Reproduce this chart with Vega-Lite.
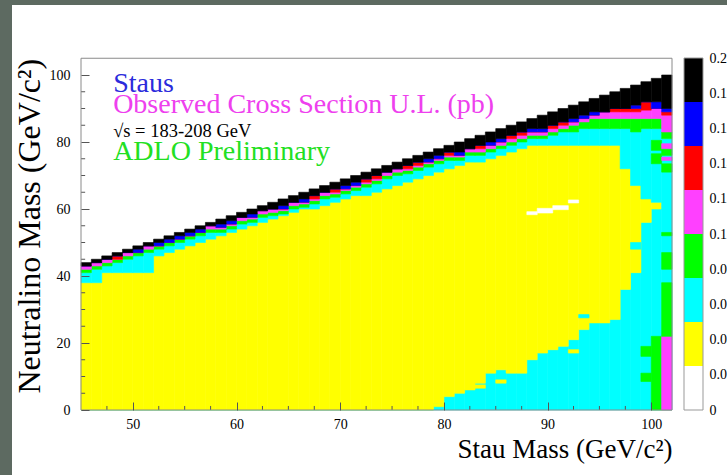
{
  "$schema": "https://vega.github.io/schema/vega-lite/v6.json",
  "width": 715,
  "height": 470,
  "autosize": {"type": "none"},
  "padding": {"left": 12, "top": 5, "right": 0, "bottom": 0},
  "background": "#5d6a61",
  "config": {
    "view": {"fill": "white", "stroke": null},
    "font": "Liberation Serif",
    "legend": {"disable": true}
  },
  "datasets": {
    "cols": [
      {"m": 45, "m2": 46, "top": 44, "k": 43, "b": 43, "r": 43, "p": 42, "g": 41, "yt": 38, "yb": 0},
      {"m": 46, "m2": 47, "top": 45, "k": 44, "b": 44, "r": 44, "p": 43, "g": 42, "yt": 38, "yb": 0},
      {"m": 47, "m2": 48, "top": 46, "k": 45, "b": 45, "r": 45, "p": 44, "g": 43, "yt": 41, "yb": 0},
      {"m": 48, "m2": 49, "top": 47, "k": 46, "b": 46, "r": 45, "p": 45, "g": 44, "yt": 41, "yb": 0},
      {"m": 49, "m2": 50, "top": 48, "k": 47, "b": 47, "r": 47, "p": 46, "g": 45, "yt": 41, "yb": 0},
      {"m": 50, "m2": 51, "top": 49, "k": 48, "b": 47, "r": 47, "p": 47, "g": 46, "yt": 41, "yb": 0},
      {"m": 51, "m2": 52, "top": 50, "k": 49, "b": 49, "r": 49, "p": 48, "g": 47, "yt": 41, "yb": 0},
      {"m": 52, "m2": 53, "top": 51, "k": 50, "b": 49, "r": 49, "p": 49, "g": 48, "yt": 46, "yb": 0},
      {"m": 53, "m2": 54, "top": 52, "k": 51, "b": 50, "r": 50, "p": 50, "g": 49, "yt": 47, "yb": 0},
      {"m": 54, "m2": 55, "top": 53, "k": 52, "b": 51, "r": 51, "p": 51, "g": 50, "yt": 48, "yb": 0},
      {"m": 55, "m2": 56, "top": 54, "k": 53, "b": 52, "r": 52, "p": 52, "g": 51, "yt": 49, "yb": 0},
      {"m": 56, "m2": 57, "top": 55, "k": 54, "b": 53, "r": 53, "p": 53, "g": 52, "yt": 50, "yb": 0},
      {"m": 57, "m2": 58, "top": 56, "k": 55, "b": 55, "r": 55, "p": 54, "g": 53, "yt": 51, "yb": 0},
      {"m": 58, "m2": 59, "top": 57, "k": 55.5, "b": 54.5, "r": 54.5, "p": 54, "g": 53, "yt": 52, "yb": 0},
      {"m": 59, "m2": 60, "top": 58, "k": 56.5, "b": 55.5, "r": 55.5, "p": 55, "g": 54, "yt": 53, "yb": 0},
      {"m": 60, "m2": 61, "top": 59, "k": 57.5, "b": 57.5, "r": 57.5, "p": 56.5, "g": 55.5, "yt": 54, "yb": 0},
      {"m": 61, "m2": 62, "top": 60, "k": 58.5, "b": 57.5, "r": 57.5, "p": 57, "g": 56, "yt": 55, "yb": 0},
      {"m": 62, "m2": 63, "top": 61, "k": 59.5, "b": 59.5, "r": 59.5, "p": 58.5, "g": 57.5, "yt": 56, "yb": 0},
      {"m": 63, "m2": 64, "top": 62, "k": 60, "b": 60, "r": 60, "p": 59, "g": 58, "yt": 57, "yb": 0},
      {"m": 64, "m2": 65, "top": 63, "k": 61, "b": 60, "r": 60, "p": 59.5, "g": 58.5, "yt": 58, "yb": 0},
      {"m": 65, "m2": 66, "top": 64, "k": 62, "b": 62, "r": 62, "p": 61, "g": 60, "yt": 59, "yb": 0},
      {"m": 66, "m2": 67, "top": 65, "k": 63, "b": 62, "r": 62, "p": 61.5, "g": 60.5, "yt": 60, "yb": 0},
      {"m": 67, "m2": 68, "top": 66, "k": 64, "b": 64, "r": 63, "p": 62.5, "g": 61.5, "yt": 60, "yb": 0},
      {"m": 68, "m2": 69, "top": 67, "k": 65, "b": 65, "r": 65, "p": 64, "g": 63, "yt": 61, "yb": 0},
      {"m": 69, "m2": 70, "top": 68, "k": 66, "b": 66, "r": 65, "p": 64.5, "g": 63.5, "yt": 62, "yb": 0},
      {"m": 70, "m2": 71, "top": 69, "k": 67, "b": 66, "r": 66, "p": 65.5, "g": 64.5, "yt": 63, "yb": 0},
      {"m": 71, "m2": 72, "top": 70, "k": 68, "b": 67, "r": 67, "p": 66.5, "g": 65.5, "yt": 64, "yb": 0},
      {"m": 72, "m2": 73, "top": 71, "k": 69, "b": 69, "r": 68, "p": 67.5, "g": 66.5, "yt": 64, "yb": 0},
      {"m": 73, "m2": 74, "top": 72, "k": 70, "b": 70, "r": 69, "p": 68.5, "g": 67.5, "yt": 65, "yb": 0},
      {"m": 74, "m2": 75, "top": 73, "k": 71, "b": 71, "r": 71, "p": 70, "g": 69, "yt": 66, "yb": 0},
      {"m": 75, "m2": 76, "top": 74, "k": 72, "b": 72, "r": 72, "p": 71, "g": 70, "yt": 67, "yb": 0},
      {"m": 76, "m2": 77, "top": 75, "k": 73, "b": 73, "r": 72, "p": 71.5, "g": 70.5, "yt": 68, "yb": 0},
      {"m": 77, "m2": 78, "top": 76, "k": 74, "b": 74, "r": 73, "p": 72.5, "g": 71.5, "yt": 69, "yb": 0},
      {"m": 78, "m2": 79, "top": 77, "k": 75, "b": 74, "r": 74, "p": 73.5, "g": 72.5, "yt": 70, "yb": 0},
      {"m": 79, "m2": 80, "top": 78, "k": 76, "b": 75, "r": 75, "p": 74.5, "g": 73.5, "yt": 71, "yb": 2},
      {"m": 80, "m2": 81, "top": 79, "k": 77, "b": 77, "r": 76, "p": 75.5, "g": 74.5, "yt": 72, "yb": 4},
      {"m": 81, "m2": 82, "top": 80, "k": 77, "b": 76, "r": 76, "p": 75.5, "g": 74.5, "yt": 73, "yb": 5},
      {"m": 82, "m2": 83, "top": 81, "k": 78, "b": 78, "r": 78, "p": 77, "g": 76, "yt": 74, "yb": 6},
      {"m": 83, "m2": 84, "top": 82, "k": 79, "b": 79, "r": 78, "p": 77, "g": 76, "yt": 74, "yb": 8},
      {"m": 84, "m2": 85, "top": 83, "k": 80, "b": 79, "r": 79, "p": 78, "g": 77, "yt": 75, "yb": 11},
      {"m": 85, "m2": 86, "top": 84, "k": 81, "b": 80, "r": 80, "p": 79, "g": 78, "yt": 76, "yb": 12},
      {"m": 86, "m2": 87, "top": 85, "k": 82, "b": 82, "r": 81, "p": 80, "g": 79, "yt": 77, "yb": 11},
      {"m": 87, "m2": 88, "top": 86, "k": 83, "b": 83, "r": 82, "p": 81, "g": 80, "yt": 78, "yb": 11},
      {"m": 88, "m2": 89, "top": 87, "k": 84, "b": 83, "r": 83, "p": 82, "g": 81, "yt": 79, "yb": 15},
      {"m": 89, "m2": 90, "top": 88, "k": 84, "b": 83, "r": 83, "p": 82, "g": 81, "yt": 79, "yb": 17},
      {"m": 90, "m2": 91, "top": 89, "k": 85, "b": 85, "r": 84, "p": 83, "g": 82, "yt": 79, "yb": 18},
      {"m": 91, "m2": 92, "top": 90, "k": 86, "b": 86, "r": 85, "p": 84, "g": 83, "yt": 79, "yb": 19},
      {"m": 92, "m2": 93, "top": 91, "k": 87, "b": 86, "r": 86, "p": 85, "g": 83, "yt": 79, "yb": 21},
      {"m": 93, "m2": 94, "top": 92, "k": 88, "b": 87, "r": 87, "p": 86, "g": 84, "yt": 79, "yb": 24},
      {"m": 94, "m2": 95, "top": 93, "k": 89, "b": 88, "r": 88, "p": 87, "g": 84, "yt": 79, "yb": 26},
      {"m": 95, "m2": 96, "top": 94, "k": 89, "b": 89, "r": 89, "p": 87, "g": 84, "yt": 79, "yb": 26},
      {"m": 96, "m2": 97, "top": 95, "k": 90, "b": 90, "r": 89, "p": 87, "g": 84, "yt": 79, "yb": 27},
      {"m": 97, "m2": 98, "top": 96, "k": 90, "b": 90, "r": 89, "p": 87, "g": 84, "yt": 72, "yb": 36},
      {"m": 98, "m2": 99, "top": 97, "k": 91, "b": 90, "r": 89, "p": 87, "g": 83, "yt": 67, "yb": 41},
      {"m": 99, "m2": 100, "top": 98, "k": 92, "b": 92, "r": 89.5, "p": 87, "g": 84, "yt": 63, "yb": 56},
      {"m": 100, "m2": 101, "top": 99, "k": 92, "b": 90, "r": 90, "p": 87, "g": 84, "yt": 62, "yb": 60},
      {"m": 101, "m2": 102, "top": 100, "k": 90, "b": 89, "r": 88, "p": 83, "g": 81, "yt": 0, "yb": 0}
    ],
    "patches": [
      {"m": 98, "m2": 99, "lo": 48, "hi": 50, "v": 0.06},
      {"m": 99, "m2": 100, "lo": 16, "hi": 19, "v": 0.09},
      {"m": 99, "m2": 100, "lo": 8.5, "hi": 11, "v": 0.09},
      {"m": 100, "m2": 101, "lo": 0, "hi": 22, "v": 0.09},
      {"m": 100, "m2": 101, "lo": 77.5, "hi": 80.5, "v": 0.09},
      {"m": 100, "m2": 101, "lo": 73.5, "hi": 76.5, "v": 0.09},
      {"m": 101, "m2": 102, "lo": 0, "hi": 22, "v": 0.11},
      {"m": 101, "m2": 102, "lo": 22, "hi": 38, "v": 0.09},
      {"m": 101, "m2": 102, "lo": 42, "hi": 47, "v": 0.09},
      {"m": 101, "m2": 102, "lo": 52, "hi": 53, "v": 0.09},
      {"m": 101, "m2": 102, "lo": 71, "hi": 73.5, "v": 0.09},
      {"m": 101, "m2": 102, "lo": 74.5, "hi": 75.5, "v": 0.11},
      {"m": 101, "m2": 102, "lo": 76, "hi": 78, "v": 0.09},
      {"m": 101, "m2": 102, "lo": 78, "hi": 79.5, "v": 0.11},
      {"m": 88, "m2": 89, "lo": 58.3, "hi": 59.2, "v": 0.01},
      {"m": 89, "m2": 90.5, "lo": 58.8, "hi": 60.2, "v": 0.01},
      {"m": 90.5, "m2": 92, "lo": 59.8, "hi": 61, "v": 0.01},
      {"m": 92, "m2": 93, "lo": 61.8, "hi": 62.7, "v": 0.01},
      {"m": 79, "m2": 80, "lo": 1, "hi": 2, "v": 0.03},
      {"m": 83, "m2": 84, "lo": 6.5, "hi": 7.5, "v": 0.03},
      {"m": 85, "m2": 86, "lo": 8, "hi": 9, "v": 0.03},
      {"m": 92, "m2": 93, "lo": 17, "hi": 18, "v": 0.03},
      {"m": 93, "m2": 94, "lo": 27.5, "hi": 28.5, "v": 0.06}
    ],
    "minorx": [
      {"t": 47.5}, {"t": 52.5}, {"t": 55}, {"t": 57.5}, {"t": 62.5}, {"t": 65}, {"t": 67.5},
      {"t": 72.5}, {"t": 75}, {"t": 77.5}, {"t": 82.5}, {"t": 85}, {"t": 87.5},
      {"t": 92.5}, {"t": 95}, {"t": 97.5}
    ],
    "minory": [
      {"t": 5}, {"t": 10}, {"t": 15}, {"t": 25}, {"t": 30}, {"t": 35}, {"t": 45}, {"t": 50},
      {"t": 55}, {"t": 65}, {"t": 70}, {"t": 75}, {"t": 85}, {"t": 90}, {"t": 95}
    ],
    "bins": [
      {"lo": 0, "hi": 0.025, "v": 0.0125},
      {"lo": 0.025, "hi": 0.05, "v": 0.0375},
      {"lo": 0.05, "hi": 0.075, "v": 0.0625},
      {"lo": 0.075, "hi": 0.1, "v": 0.0875},
      {"lo": 0.1, "hi": 0.125, "v": 0.1125},
      {"lo": 0.125, "hi": 0.15, "v": 0.1375},
      {"lo": 0.15, "hi": 0.175, "v": 0.1625},
      {"lo": 0.175, "hi": 0.2, "v": 0.1875}
    ]
  },
  "resolve": {"scale": {"x": "independent", "y": "independent"}},
  "layer": [
    {
      "layer": [
        {
          "data": {"name": "cols"},
          "mark": {"type": "rect", "fill": "#00ffff", "stroke": "#00ffff", "strokeWidth": 0.6},
          "encoding": {
            "x": {"field": "m", "type": "quantitative", "scale": {"domain": [45, 102], "range": [69, 660], "nice": false, "zero": false},
              "axis": {"orient": "bottom", "offset": -65, "values": [50, 60, 70, 80, 90, 100], "labelOverlap": false, "labelFlush": false,
                "tickSize": -8, "tickColor": "#555", "domain": false, "grid": false,
                "labelFont": "Liberation Serif", "labelFontSize": 14, "labelColor": "#000", "labelPadding": 15,
                "title": "Stau Mass (GeV/c²)", "titleFont": "Liberation Serif", "titleFontSize": 27, "titleFontWeight": "normal", "titleColor": "#000", "titleAnchor": "end", "titlePadding": 5, "zindex": 1}},
            "x2": {"field": "m2"},
            "y": {"field": "yb", "type": "quantitative", "scale": {"domain": [0, 105], "range": [405, 53.25], "nice": false, "zero": false},
              "axis": {"orient": "left", "offset": -69, "values": [0, 20, 40, 60, 80, 100], "labelOverlap": false,
                "tickSize": -8, "tickColor": "#555", "domain": false, "grid": false,
                "labelFont": "Liberation Serif", "labelFontSize": 14, "labelColor": "#000", "labelPadding": 19,
                "title": "Neutralino Mass (GeV/c²)", "titleFont": "Liberation Serif", "titleFontSize": 32, "titleFontWeight": "normal", "titleColor": "#000", "titleAnchor": "end", "titlePadding": 3, "zindex": 1}},
            "y2": {"datum": 0}
          }
        },
        {
          "data": {"name": "cols"},
          "mark": {"type": "rect", "fill": "#ffff00", "stroke": "#ffff00", "strokeWidth": 0.6},
          "encoding": {
            "x": {"field": "m", "type": "quantitative"},
            "x2": {"field": "m2"},
            "y": {"field": "yb", "type": "quantitative"},
            "y2": {"field": "yt"}
          }
        },
        {
          "data": {"name": "cols"},
          "mark": {"type": "rect", "fill": "#00ffff", "stroke": "#00ffff", "strokeWidth": 0.6},
          "encoding": {
            "x": {"field": "m", "type": "quantitative"},
            "x2": {"field": "m2"},
            "y": {"field": "yt", "type": "quantitative"},
            "y2": {"field": "g"}
          }
        },
        {
          "data": {"name": "cols"},
          "mark": {"type": "rect", "fill": "#00ff00", "stroke": "#00ff00", "strokeWidth": 0.6},
          "encoding": {
            "x": {"field": "m", "type": "quantitative"},
            "x2": {"field": "m2"},
            "y": {"field": "g", "type": "quantitative"},
            "y2": {"field": "p"}
          }
        },
        {
          "data": {"name": "cols"},
          "mark": {"type": "rect", "fill": "#ff40ff", "stroke": "#ff40ff", "strokeWidth": 0.6},
          "encoding": {
            "x": {"field": "m", "type": "quantitative"},
            "x2": {"field": "m2"},
            "y": {"field": "p", "type": "quantitative"},
            "y2": {"field": "r"}
          }
        },
        {
          "data": {"name": "cols"},
          "mark": {"type": "rect", "fill": "#ff0000", "stroke": "#ff0000", "strokeWidth": 0.6},
          "encoding": {
            "x": {"field": "m", "type": "quantitative"},
            "x2": {"field": "m2"},
            "y": {"field": "r", "type": "quantitative"},
            "y2": {"field": "b"}
          }
        },
        {
          "data": {"name": "cols"},
          "mark": {"type": "rect", "fill": "#0000ff", "stroke": "#0000ff", "strokeWidth": 0.6},
          "encoding": {
            "x": {"field": "m", "type": "quantitative"},
            "x2": {"field": "m2"},
            "y": {"field": "b", "type": "quantitative"},
            "y2": {"field": "k"}
          }
        },
        {
          "data": {"name": "cols"},
          "mark": {"type": "rect", "fill": "#000000", "stroke": "#000000", "strokeWidth": 0.6},
          "encoding": {
            "x": {"field": "m", "type": "quantitative"},
            "x2": {"field": "m2"},
            "y": {"field": "k", "type": "quantitative"},
            "y2": {"field": "top"}
          }
        },
        {
          "data": {"name": "patches"},
          "mark": {"type": "rect", "strokeWidth": 0.6},
          "encoding": {
            "x": {"field": "m", "type": "quantitative"},
            "x2": {"field": "m2"},
            "y": {"field": "lo", "type": "quantitative"},
            "y2": {"field": "hi"},
            "fill": {"field": "v", "type": "quantitative", "scale": {"type": "threshold", "domain": [0.025, 0.05, 0.075, 0.1, 0.125, 0.15, 0.175], "range": ["#ffffff", "#ffff00", "#00ffff", "#00ff00", "#ff40ff", "#ff0000", "#0000ff", "#000000"]}},
            "stroke": {"field": "v", "type": "quantitative", "scale": {"type": "threshold", "domain": [0.025, 0.05, 0.075, 0.1, 0.125, 0.15, 0.175], "range": ["#ffffff", "#ffff00", "#00ffff", "#00ff00", "#ff40ff", "#ff0000", "#0000ff", "#000000"]}}
          }
        },
        {
          "data": {"name": "minorx"},
          "mark": {"type": "rule", "color": "#555555", "strokeWidth": 1},
          "encoding": {
            "x": {"field": "t", "type": "quantitative"},
            "y": {"datum": 0, "type": "quantitative"},
            "y2": {"datum": 1.2}
          }
        },
        {
          "data": {"name": "minory"},
          "mark": {"type": "rule", "color": "#555555", "strokeWidth": 1},
          "encoding": {
            "y": {"field": "t", "type": "quantitative"},
            "x": {"datum": 45, "type": "quantitative"},
            "x2": {"datum": 45.4}
          }
        },
        {
          "data": {"values": [{}]},
          "mark": {"type": "rect", "filled": false, "stroke": "#8a8a8a", "strokeWidth": 1},
          "encoding": {
            "x": {"datum": 45, "type": "quantitative"},
            "x2": {"datum": 102},
            "y": {"datum": 0, "type": "quantitative"},
            "y2": {"datum": 105}
          }
        },
        {
          "data": {"values": [{}]},
          "mark": {"type": "text", "text": "Staus", "font": "Liberation Serif", "fontSize": 28, "color": "#2b2bdc", "align": "left", "baseline": "alphabetic"},
          "encoding": {"x": {"datum": 48.1, "type": "quantitative"}, "y": {"datum": 95, "type": "quantitative"}}
        },
        {
          "data": {"values": [{}]},
          "mark": {"type": "text", "text": "Observed Cross Section U.L. (pb)", "font": "Liberation Serif", "fontSize": 28, "color": "#ee40ee", "align": "left", "baseline": "alphabetic"},
          "encoding": {"x": {"datum": 48.1, "type": "quantitative"}, "y": {"datum": 88.6, "type": "quantitative"}}
        },
        {
          "data": {"values": [{}]},
          "mark": {"type": "text", "text": "√s = 183-208 GeV", "font": "Liberation Serif", "fontSize": 18.5, "color": "#000000", "align": "left", "baseline": "alphabetic"},
          "encoding": {"x": {"datum": 48.1, "type": "quantitative"}, "y": {"datum": 81.4, "type": "quantitative"}}
        },
        {
          "data": {"values": [{}]},
          "mark": {"type": "text", "text": "ADLO Preliminary", "font": "Liberation Serif", "fontSize": 28, "color": "#22e022", "align": "left", "baseline": "alphabetic"},
          "encoding": {"x": {"datum": 48.1, "type": "quantitative"}, "y": {"datum": 74.6, "type": "quantitative"}}
        }
      ]
    },
    {
      "layer": [
        {
          "data": {"name": "bins"},
          "mark": {"type": "rect"},
          "encoding": {
            "x": {"datum": 0, "type": "quantitative", "scale": {"domain": [0, 1], "range": [672, 691], "nice": false, "zero": false}, "axis": null},
            "x2": {"datum": 1},
            "y": {"field": "lo", "type": "quantitative", "scale": {"domain": [0, 0.2], "range": [405, 53], "nice": false, "zero": false},
              "axis": {"orient": "right", "offset": -24, "values": [0, 0.02, 0.04, 0.06, 0.08, 0.1, 0.12, 0.14, 0.16, 0.18, 0.2], "format": "~g", "tickSize": 0, "domain": false, "grid": false, "labelOverlap": false,
                "labelFont": "Liberation Serif", "labelFontSize": 14, "labelColor": "#000", "labelPadding": 6, "title": null}},
            "y2": {"field": "hi"},
            "fill": {"field": "v", "type": "quantitative", "scale": {"type": "threshold", "domain": [0.025, 0.05, 0.075, 0.1, 0.125, 0.15, 0.175], "range": ["#ffffff", "#ffff00", "#00ffff", "#00ff00", "#ff40ff", "#ff0000", "#0000ff", "#000000"]}}
          }
        },
        {
          "data": {"values": [{}]},
          "mark": {"type": "rect", "filled": false, "stroke": "#999999", "strokeWidth": 1},
          "encoding": {
            "x": {"datum": 0, "type": "quantitative"},
            "x2": {"datum": 1},
            "y": {"datum": 0, "type": "quantitative"},
            "y2": {"datum": 0.2}
          }
        }
      ]
    }
  ]
}
